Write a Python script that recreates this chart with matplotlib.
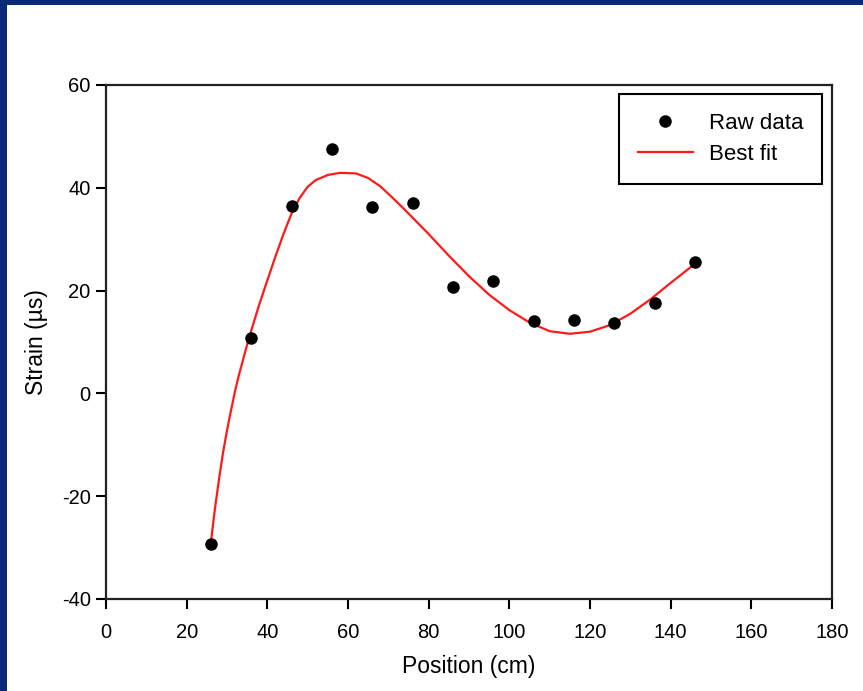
import matplotlib
matplotlib.use('Agg')
import matplotlib.pyplot as plt

# Raw measurements
position = [26, 36, 46, 56, 66, 76, 86, 96, 106, 116, 126, 136, 146]
strain = [-29.3, 10.8, 36.5, 47.5, 36.3, 37.0, 20.7, 21.9, 14.1, 14.3, 13.7, 17.6, 25.6]

# Best fit curve
fit_x = [26, 27, 28, 29, 30, 31, 32, 33, 34, 35, 36, 38, 40, 42, 44, 46, 48, 50,
         52, 55, 58, 62, 65, 68, 71, 74, 77, 80, 85, 90, 95, 100, 105, 110, 115,
         120, 125, 130, 135, 140, 146]
fit_y = [-29.0, -22.5, -16.8, -11.6, -7.2, -3.3, 0.5, 3.7, 6.6, 9.5, 12.2, 17.3,
         22.0, 26.6, 31.0, 35.0, 38.0, 40.2, 41.5, 42.5, 42.9, 42.8, 41.9, 40.3,
         38.1, 35.8, 33.4, 31.0, 26.8, 22.8, 19.2, 16.2, 13.8, 12.1, 11.6, 12.0,
         13.3, 15.5, 18.3, 21.5, 25.2]

x_ticks = list(range(0, 181, 20))
y_ticks = list(range(-40, 61, 20))

plt.rcParams['font.family'] = ['Liberation Sans', 'DejaVu Sans']
plt.rcParams['axes.unicode_minus'] = False

fig = plt.figure(figsize=(8.63, 6.91), dpi=100, facecolor='#0a2a78')

# white slide panel behind the chart
bg = fig.add_axes([7 / 863, 0, 1 - 7 / 863, 1 - 5 / 691])
bg.set_facecolor('white')
bg.set_xticks([])
bg.set_yticks([])
for s in bg.spines.values():
    s.set_visible(False)
bg.set_zorder(0)

ax = fig.add_axes([106 / 863, 1 - 599 / 691, (832 - 106) / 863, (599 - 85) / 691])
ax.set_zorder(1)
ax.set_facecolor('white')

ax.plot(fit_x, fit_y, color='#ff1a1a', lw=1.6, label='Best fit', zorder=2)
ax.plot(position, strain, 'o', color='black', ms=8, label='Raw data', zorder=3)

ax.set_xlim(0, 180)
ax.set_ylim(-40, 60)
ax.set_xticks(x_ticks)
ax.set_yticks(y_ticks)
ax.tick_params(direction='out', length=7, width=1.5, labelsize=14.5, colors='black', pad=4)
ax.tick_params(axis='x', pad=10)

for s in ax.spines.values():
    s.set_linewidth(1.6)
    s.set_color('#222222')

ax.set_xlabel('Position (cm)', fontsize=16.5, labelpad=10)
ax.set_ylabel('Strain (µs)', fontsize=16.5, labelpad=10)

handles, labels = ax.get_legend_handles_labels()
leg = ax.legend(handles[::-1], labels[::-1], loc='upper right', fontsize=16,
                fancybox=False, edgecolor='black', framealpha=1,
                borderpad=0.85, handlelength=2.5, handletextpad=0.7,
                labelspacing=0.45, borderaxespad=0,
                bbox_to_anchor=(1 - 10 / 726, 1 - 9 / 514))
leg.get_frame().set_linewidth(1.5)

fig.savefig('out.png', dpi=100, facecolor=fig.get_facecolor())
